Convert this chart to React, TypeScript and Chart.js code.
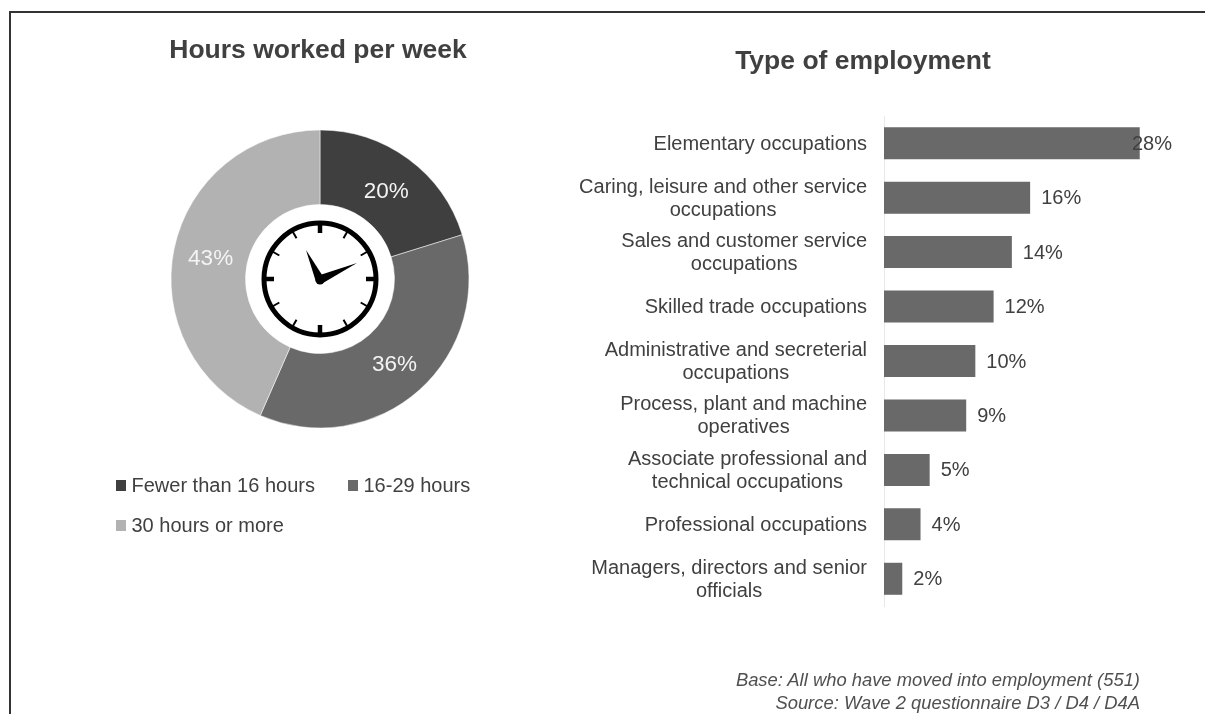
import React, { useEffect, useRef } from "react";
import { Chart, registerables } from "chart.js";

Chart.register(...registerables);

const FONT = '"Liberation Sans", Arial, sans-serif';
const TEXT = "#404040";

const hoursLabels = ["Fewer than 16 hours", "16-29 hours", "30 hours or more"];
const hoursValues = [20, 36, 43];
const hoursColors = ["#3f3f3f", "#696969", "#b2b2b2"];

const jobLabels = [
  ["Elementary occupations"],
  ["Caring, leisure and other service", "occupations"],
  ["Sales and customer service", "occupations"],
  ["Skilled trade occupations"],
  ["Administrative and secreterial", "occupations"],
  ["Process, plant and machine", "operatives"],
  ["Associate professional and", "technical occupations"],
  ["Professional occupations"],
  ["Managers, directors and senior", "officials"],
];
const jobValues = [28, 16, 14, 12, 10, 9, 5, 4, 2];

const footerLines = [
  "Base: All who have moved into employment (551)",
  "Source: Wave 2 questionnaire D3 / D4 / D4A",
];

const titleShift = (dx: number) => ({
  id: "titleShift",
  afterLayout(chart: any) {
    chart.titleBlock.left += dx;
    chart.titleBlock.right += dx;
  },
});

const sliceLabels = {
  id: "sliceLabels",
  afterDatasetsDraw(chart: any) {
    const { ctx } = chart;
    ctx.save();
    ctx.font = `22.5px ${FONT}`;
    ctx.fillStyle = "#f4f4f4";
    ctx.textAlign = "center";
    ctx.textBaseline = "middle";
    chart.getDatasetMeta(0).data.forEach((arc: any, i: number) => {
      const p = arc.tooltipPosition();
      ctx.fillText(`${hoursValues[i]}%`, p.x, p.y + 3);
    });
    ctx.restore();
  },
};

const clock = {
  id: "clock",
  afterDatasetsDraw(chart: any) {
    const arc = chart.getDatasetMeta(0).data[0];
    const { ctx } = chart;
    ctx.save();
    ctx.translate(arc.x, arc.y);
    ctx.strokeStyle = "#000";
    ctx.fillStyle = "#000";
    ctx.lineWidth = 5;
    ctx.beginPath();
    ctx.arc(0, 0, 56, 0, Math.PI * 2);
    ctx.stroke();
    for (let h = 0; h < 12; h++) {
      const major = h % 3 === 0;
      ctx.save();
      ctx.rotate((h * Math.PI) / 6);
      ctx.lineWidth = major ? 4.5 : 2;
      ctx.beginPath();
      ctx.moveTo(0, -55);
      ctx.lineTo(0, major ? -46 : -47);
      ctx.stroke();
      ctx.restore();
    }
    ctx.beginPath();
    ctx.moveTo(-14, -29);
    ctx.lineTo(4, -1);
    ctx.lineTo(-4, 3);
    ctx.closePath();
    ctx.fill();
    ctx.beginPath();
    ctx.moveTo(37, -16);
    ctx.lineTo(0, -4);
    ctx.lineTo(3, 4);
    ctx.closePath();
    ctx.fill();
    ctx.beginPath();
    ctx.arc(0, 1, 4.5, 0, Math.PI * 2);
    ctx.fill();
    ctx.restore();
  },
};

const hoursLegend = {
  id: "hoursLegend",
  afterDraw(chart: any) {
    const { ctx } = chart;
    const spots = [
      [18, 485],
      [250, 485],
      [18, 525],
    ];
    ctx.save();
    ctx.font = `20px ${FONT}`;
    ctx.textBaseline = "middle";
    chart.data.labels.forEach((label: string, i: number) => {
      const [x, y] = spots[i];
      ctx.fillStyle = hoursColors[i];
      ctx.fillRect(x, y - 5, 10, 11);
      ctx.fillStyle = TEXT;
      ctx.fillText(label, x + 15.5, y + 1);
    });
    ctx.restore();
  },
};

const jobText = {
  id: "jobText",
  afterDatasetsDraw(chart: any) {
    const { ctx, scales } = chart;
    ctx.save();
    ctx.font = `20px ${FONT}`;
    ctx.fillStyle = TEXT;
    ctx.textBaseline = "middle";
    ctx.textAlign = "center";
    const right = scales.y.right - 17;
    jobLabels.forEach((lines, i) => {
      const block = Math.max(...lines.map((l) => ctx.measureText(l).width));
      const cy = scales.y.getPixelForValue(i);
      lines.forEach((line, k) => {
        const y = cy + (k - (lines.length - 1) / 2) * 23 + 1;
        ctx.fillText(line, right - block / 2, y);
      });
    });
    ctx.textAlign = "left";
    const meta = chart.getDatasetMeta(0).data;
    const limit = chart.width - 31;
    jobValues.forEach((v, i) => {
      const text = `${v}%`;
      const w = ctx.measureText(text).width;
      const x = Math.min(meta[i].x + 11, limit - w);
      ctx.fillText(text, x, meta[i].y + 1);
    });
    ctx.restore();
  },
};

export default function App() {
  const pieRef = useRef<HTMLCanvasElement>(null);
  const barRef = useRef<HTMLCanvasElement>(null);

  useEffect(() => {
    const title = (text: string, top: number, bottom: number) => ({
      display: true,
      text,
      color: TEXT,
      font: { family: FONT, size: 26.5, weight: "bold" as const },
      padding: { top, bottom },
    });
    const pie = new Chart(pieRef.current!, {
      type: "doughnut",
      data: {
        labels: hoursLabels,
        datasets: [
          {
            data: hoursValues,
            backgroundColor: hoursColors,
            borderColor: "#ffffff",
            borderWidth: 0.5,
          },
        ],
      },
      options: {
        animation: false,
        responsive: false,
        radius: 149,
        cutout: "50%",
        layout: { padding: { left: 4, bottom: 222.3 } },
        plugins: {
          legend: { display: false },
          tooltip: { enabled: false },
          title: title("Hours worked per week", 34.5, 0),
        },
      },
      plugins: [titleShift(-2), sliceLabels, clock, hoursLegend],
    });
    const bar = new Chart(barRef.current!, {
      type: "bar",
      data: {
        labels: jobLabels.map((l) => l.join(" ")),
        datasets: [
          {
            data: jobValues,
            backgroundColor: "#696969",
            barPercentage: 0.588,
            categoryPercentage: 1,
          },
        ],
      },
      options: {
        animation: false,
        responsive: false,
        indexAxis: "y",
        layout: { padding: { right: 45, bottom: 108 } },
        scales: {
          x: { display: false, min: 0, max: 30 },
          y: {
            grid: { display: false },
            ticks: { display: false },
            border: { color: "#e8e8e8", width: 1 },
            afterFit(scale: any) {
              scale.width = 361;
            },
          },
        },
        plugins: {
          legend: { display: false },
          tooltip: { enabled: false },
          title: title("Type of employment", 45.5, 38.7),
        },
      },
      plugins: [titleShift(22.5), jobText],
    });
    return () => {
      pie.destroy();
      bar.destroy();
    };
  }, []);

  return (
    <div
      style={{
        position: "absolute",
        left: 0,
        top: 0,
        width: 1205,
        height: 714,
        overflow: "hidden",
        background: "#fff",
        fontFamily: FONT,
      }}
    >
      <div
        style={{
          position: "absolute",
          left: 9,
          top: 11,
          right: 0,
          bottom: 0,
          borderTop: "2px solid #333",
          borderLeft: "2px solid #333",
        }}
      />
      <canvas
        ref={pieRef}
        width={440}
        height={714}
        style={{ position: "absolute", left: 98, top: 0 }}
      />
      <canvas
        ref={barRef}
        width={680}
        height={714}
        style={{ position: "absolute", left: 523, top: 0 }}
      />
      <div
        style={{
          position: "absolute",
          right: 65,
          top: 668,
          textAlign: "right",
          fontStyle: "italic",
          fontSize: 18.4,
          lineHeight: "23px",
          color: "#505050",
          whiteSpace: "nowrap",
        }}
      >
        {footerLines.map((line) => (
          <div key={line}>{line}</div>
        ))}
      </div>
    </div>
  );
}
